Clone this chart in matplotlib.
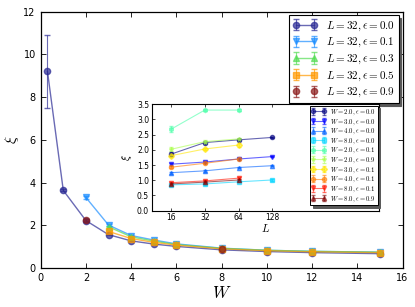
import matplotlib
matplotlib.use("Agg")
import matplotlib.pyplot as plt
import matplotlib.ticker as ticker
from matplotlib import cm

plt.rcParams["mathtext.fontset"] = "cm"
plt.rcParams["xtick.direction"] = "in"
plt.rcParams["ytick.direction"] = "in"
plt.rcParams["xtick.top"] = True
plt.rcParams["ytick.right"] = True

# main panel: correlation length xi vs disorder W, L = 32
W_eps00 = [0.3, 1, 2, 3, 4, 5, 6, 8, 10, 12, 15]
xi_eps00 = [9.2, 3.63, 2.22, 1.56, 1.27, 1.12, 1.01, 0.85, 0.77, 0.72, 0.67]
err_eps00 = [1.7, 0.05, 0.05, 0.03, 0.02, 0.02, 0.02, 0.01, 0.01, 0.01, 0.01]

W_eps01 = [2, 3, 4, 5, 6, 8, 10, 12, 15]
xi_eps01 = [3.3, 2.01, 1.52, 1.31, 1.13, 0.93, 0.83, 0.78, 0.74]
err_eps01 = [0.05, 0.03, 0.02, 0.02, 0.02, 0.01, 0.01, 0.01, 0.01]

W_eps03 = [3, 4, 5, 6, 8, 10, 12, 15]
xi_eps03 = [1.93, 1.46, 1.26, 1.1, 0.92, 0.83, 0.78, 0.74]
err_eps03 = [0.03, 0.02, 0.02, 0.02, 0.01, 0.01, 0.01, 0.01]

W_eps05 = [3, 4, 5, 6, 8, 10, 12, 15]
xi_eps05 = [1.71, 1.38, 1.2, 1.07, 0.9, 0.81, 0.76, 0.72]
err_eps05 = [0.03, 0.02, 0.02, 0.02, 0.01, 0.01, 0.01, 0.01]

W_eps09 = [2, 8]
xi_eps09 = [2.25, 0.87]
err_eps09 = [0.04, 0.01]

main_series = [
    (W_eps00, xi_eps00, err_eps00, "0.0", "#2b2b95", "o", "-"),
    (W_eps01, xi_eps01, err_eps01, "0.1", "#1e8fff", "v", "-"),
    (W_eps03, xi_eps03, err_eps03, "0.3", "#55dd55", "^", "-"),
    (W_eps05, xi_eps05, err_eps05, "0.5", "#ff9900", "s", "-"),
    (W_eps09, xi_eps09, err_eps09, "0.9", "#8b1a1a", "o", "none"),
]

# inset: xi vs system size L
L_full = [16, 32, 64, 128]
L_short = [16, 32, 64]
inset_labels = [
    ("2.0", "0.0"), ("3.0", "0.0"), ("4.0", "0.0"), ("8.0", "0.0"),
    ("2.0", "0.1"), ("2.0", "0.9"), ("3.0", "0.1"), ("4.0", "0.1"),
    ("8.0", "0.1"), ("8.0", "0.9"),
]
inset_L = [L_full, L_full, L_full, L_full, L_short, L_short, L_short, L_short, L_short, L_short]
inset_xi = [
    [1.86, 2.24, 2.33, 2.41],
    [1.53, 1.60, 1.70, 1.78],
    [1.25, 1.31, 1.42, 1.48],
    [0.85, 0.88, 0.95, 1.01],
    [2.68, 3.31, 3.31],
    [2.02, 2.27, 2.36],
    [1.81, 2.03, 2.16],
    [1.43, 1.56, 1.70],
    [0.92, 0.98, 1.07],
    [0.88, 0.94, 1.01],
]
inset_err = [
    [0.06, 0.04, 0.03, 0.03],
    [0.04, 0.03, 0.03, 0.03],
    [0.03, 0.03, 0.02, 0.02],
    [0.02, 0.02, 0.02, 0.02],
    [0.1, 0.04, 0.04],
    [0.06, 0.04, 0.04],
    [0.06, 0.04, 0.06],
    [0.04, 0.03, 0.03],
    [0.03, 0.03, 0.04],
    [0.03, 0.03, 0.03],
]
inset_markers = ["o", "v", "^", "s", "h", "*", "D", "o", "v", "^"]

fig = plt.figure(figsize=(4.15, 3.07), dpi=100)
ax = fig.add_axes([0.098, 0.127, 0.872, 0.8355])

for W, xi, err, eps, c, m, ls in main_series:
    ax.errorbar(W, xi, yerr=err, color=c, marker=m, markersize=4.5, mec=c,
                lw=1, ls=ls, alpha=0.7, capsize=2.5, elinewidth=0.8,
                label=r"$L=32, \epsilon=%s$" % eps)

ax.set_xlim(0, 16)
ax.set_ylim(0, 12)
ax.set_xticks(range(0, 17, 2))
ax.set_yticks(range(0, 13, 2))
ax.tick_params(labelsize=7, length=3.5, width=0.6)
ax.set_xlabel(r"$W$", fontsize=12, labelpad=1)
ax.set_ylabel(r"$\xi$", fontsize=11, labelpad=2)
for s in ax.spines.values():
    s.set_linewidth(0.9)

leg = ax.legend(loc="upper right", fontsize=8, numpoints=2,
                shadow={"color": "0.35", "alpha": 1},
                fancybox=False, borderaxespad=0.35, handlelength=2.2,
                labelspacing=0.3, borderpad=0.35)
leg.get_frame().set_edgecolor("black")
leg.get_frame().set_linewidth(0.8)

axin = fig.add_axes([0.366, 0.3137, 0.547, 0.3466])
colors = cm.jet([i / 9 for i in range(10)])
for i in range(10):
    c = colors[i]
    Wv, ev = inset_labels[i]
    axin.errorbar(inset_L[i], inset_xi[i], yerr=inset_err[i], color=c,
                  marker=inset_markers[i], markersize=3, mec=c, lw=0.8,
                  alpha=0.6, capsize=1.5, elinewidth=0.6,
                  label=r"$W=%s, \epsilon=%s$" % (Wv, ev))

axin.set_xscale("log", base=2)
axin.set_xlim(10.8, 1145)
axin.set_xticks(L_full)
axin.xaxis.set_major_formatter(ticker.ScalarFormatter())
axin.xaxis.set_minor_locator(ticker.NullLocator())
axin.set_ylim(0, 3.5)
axin.set_yticks([0, 0.5, 1, 1.5, 2, 2.5, 3, 3.5])
axin.yaxis.set_major_formatter(ticker.FormatStrFormatter("%.1f"))
axin.tick_params(labelsize=5.5, length=2.5, width=0.5, pad=2)
axin.set_xlabel(r"$L$", fontsize=8, labelpad=0)
axin.set_ylabel(r"$\xi$", fontsize=8, labelpad=2)
for s in axin.spines.values():
    s.set_linewidth(0.8)

leg2 = axin.legend(loc="upper right", fontsize=4.8, numpoints=2,
                   shadow={"color": "0.35", "alpha": 1},
                   fancybox=False, borderaxespad=0.2, handlelength=2.2,
                   labelspacing=0.0, borderpad=0.25, handletextpad=0.6)
leg2.get_frame().set_edgecolor("black")
leg2.get_frame().set_linewidth(0.7)

fig.savefig("out.png", dpi=100)
